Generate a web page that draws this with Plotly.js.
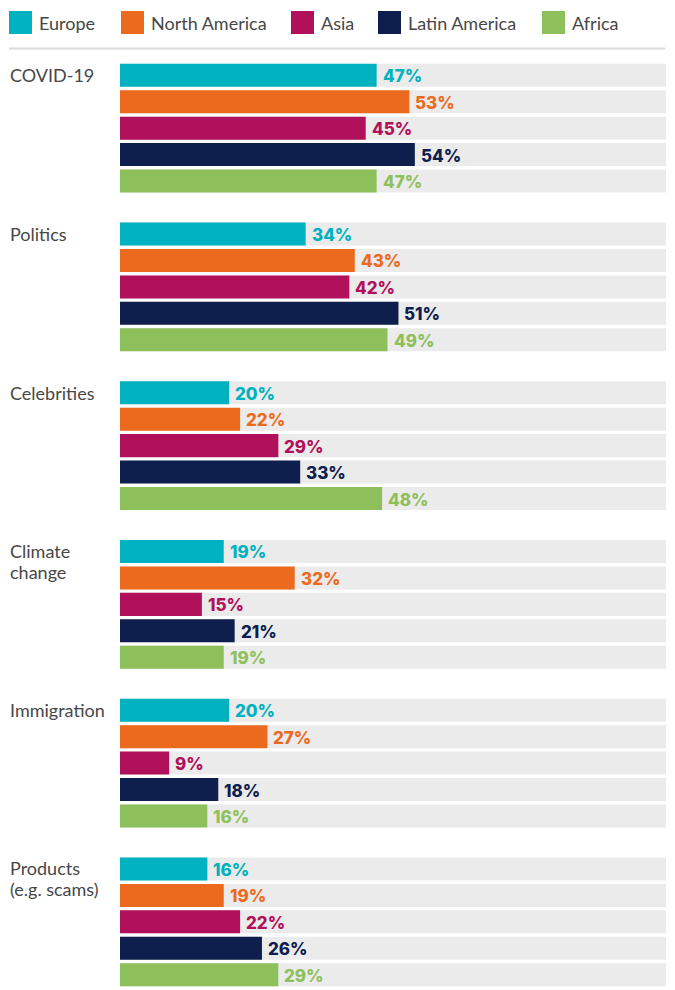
<!DOCTYPE html>
<html>
<head>
<meta charset="utf-8">
<script src="https://cdn.plot.ly/plotly-3.0.1.min.js"></script>
<style>
  html, body { margin: 0; padding: 0; background: #ffffff; }
  #chart { width: 675px; height: 990px; }
</style>
</head>
<body>
<div id="chart"></div>
<script>
// ---- Data ----
const categories = ["COVID-19", "Politics", "Celebrities", "Climate change", "Immigration", "Products (e.g. scams)"];
const categoryLabelLines = [["COVID-19"], ["Politics"], ["Celebrities"], ["Climate", "change"], ["Immigration"], ["Products", "(e.g. scams)"]];
const seriesNames = ["Europe", "North America", "Asia", "Latin America", "Africa"];
const europe       = [47, 34, 20, 19, 20, 16];
const northAmerica = [53, 43, 22, 32, 27, 19];
const asia         = [45, 42, 29, 15,  9, 22];
const latinAmerica = [54, 51, 33, 21, 18, 26];
const africa       = [47, 49, 48, 19, 16, 29];
const FULL_SCALE = 100;

// ---- Style ----
const seriesValues = [europe, northAmerica, asia, latinAmerica, africa];
const colors = ["#00b2bf", "#ec6a1e", "#b1105a", "#0e1f4e", "#8dc05b"];
const bgColor = "#ebebeb";
const textGray = "#474747";
const W = 675, H = 990;
const M = {l: 120, r: 9, t: 62, b: 2};
const slotsPerGroup = 6;
const nSlots = categories.length * slotsPerGroup - 1;
const barWidth = 0.87;
const labelFont = "Lato, 'Open Sans', sans-serif";
const valueFont = "Inter, 'DejaVu Sans', sans-serif";

const pxX = px => (px - M.l) / (W - M.l - M.r);
const pxY = py => (H - M.b - py) / (H - M.t - M.b);

const slotOf = (g, s) => g * slotsPerGroup + s;

const traces = [];
// background full-scale bars
const bgY = [], bgX = [];
categories.forEach((c, g) => {
  seriesNames.forEach((n, s) => { bgY.push(slotOf(g, s)); bgX.push(FULL_SCALE); });
});
traces.push({
  type: "bar", orientation: "h", x: bgX, y: bgY, width: barWidth,
  marker: {color: bgColor}, hoverinfo: "skip", showlegend: false
});
seriesNames.forEach((name, s) => {
  traces.push({
    type: "bar", orientation: "h", name: name,
    x: seriesValues[s],
    y: categories.map((c, g) => slotOf(g, s)),
    width: barWidth,
    marker: {color: colors[s]},
    showlegend: false,
    hovertemplate: "%{x}%<extra>" + name + "</extra>"
  });
});

const annotations = [];
const shapes = [];
// value labels
seriesNames.forEach((name, s) => {
  seriesValues[s].forEach((v, g) => {
    annotations.push({
      x: v, y: slotOf(g, s), xref: "x", yref: "y",
      text: v + "%", showarrow: false, xanchor: "left", yanchor: "middle",
      xshift: 4, yshift: -1,
      font: {family: valueFont, size: 17, weight: 800, color: colors[s]}
    });
  });
});
// category labels
categoryLabelLines.forEach((lines, g) => {
  lines.forEach((line, i) => {
    annotations.push({
      x: pxX(8), y: slotOf(g, 0), xref: "paper", yref: "y",
      text: line, showarrow: false, xanchor: "left", yanchor: "middle",
      yshift: -i * 21 + (lines.length > 1 ? 0.5 : 0),
      font: {family: labelFont, size: 18, color: textGray}
    });
  });
});
// custom legend
const legendX = [9, 121, 291, 378, 542];
seriesNames.forEach((name, s) => {
  shapes.push({
    type: "rect", xref: "paper", yref: "paper",
    x0: pxX(legendX[s]), x1: pxX(legendX[s] + 23),
    y0: pxY(34), y1: pxY(11),
    fillcolor: colors[s], line: {width: 0}
  });
  annotations.push({
    x: pxX(legendX[s] + 28), y: pxY(22.5), xref: "paper", yref: "paper",
    text: name, showarrow: false, xanchor: "left", yanchor: "middle",
    font: {family: labelFont, size: 18, color: textGray}
  });
});
shapes.push({
  type: "line", xref: "paper", yref: "paper",
  x0: pxX(9), x1: pxX(665), y0: pxY(48.5), y1: pxY(48.5),
  line: {color: "#dedae0", width: 2}
});

const layout = {
  width: W, height: H,
  margin: M,
  paper_bgcolor: "#ffffff", plot_bgcolor: "#ffffff",
  barmode: "overlay",
  showlegend: false,
  xaxis: {range: [0, FULL_SCALE], visible: false, fixedrange: true},
  yaxis: {range: [nSlots - 0.5, -0.5], visible: false, fixedrange: true},
  annotations: annotations,
  shapes: shapes
};

Plotly.newPlot("chart", traces, layout, {displayModeBar: false, responsive: false});
</script>
</body>
</html>
